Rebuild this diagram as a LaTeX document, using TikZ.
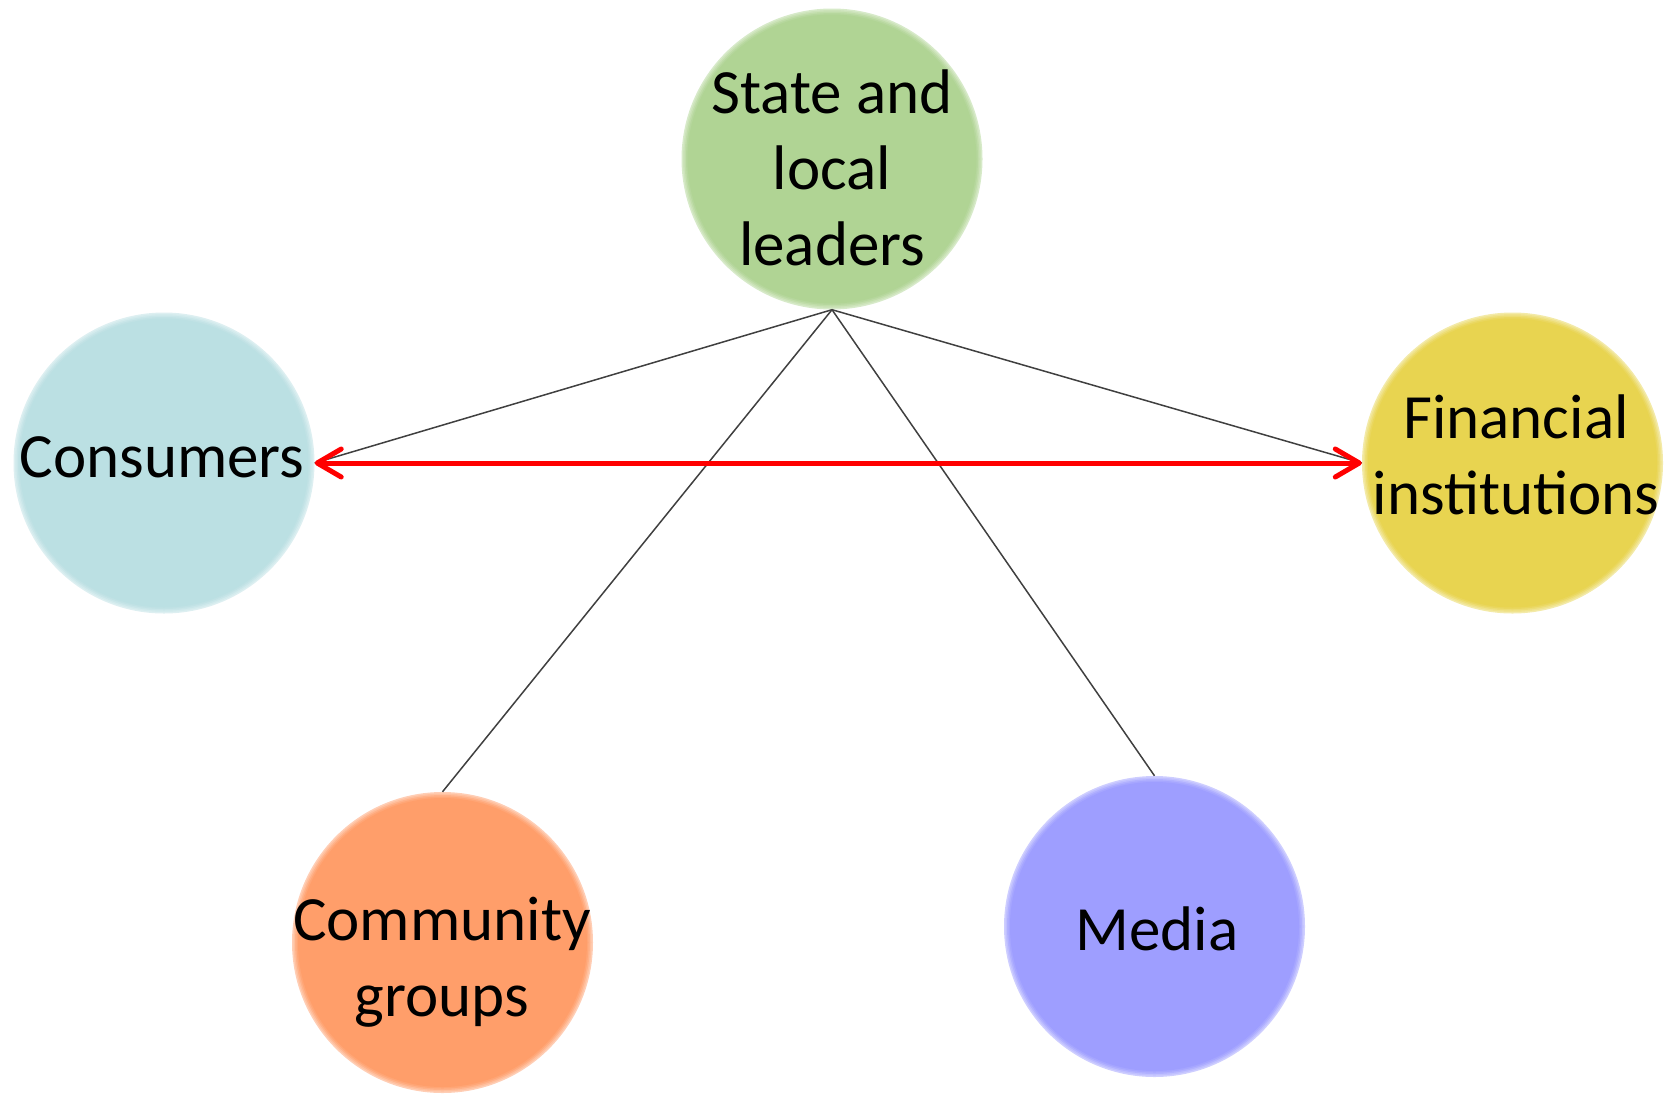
\documentclass[tikz,border=0pt]{standalone}
\usepackage{fontspec}
\setmainfont{Carlito}
\usetikzlibrary{arrows.meta}

\definecolor{leadgreen}{RGB}{176,212,148}
\definecolor{consblue}{RGB}{187,224,227}
\definecolor{finyellow}{RGB}{232,212,80}
\definecolor{commorange}{RGB}{255,158,106}
\definecolor{mediaviolet}{RGB}{158,158,255}
\definecolor{linkgray}{RGB}{64,64,64}

\tikzset{
  bubble/.style={circle, inner sep=0pt, minimum size=301pt,
    fill=#1!50!white,
    path picture={
      \fill[#1!65!white] (path picture bounding box.center) circle (149pt);
      \fill[#1!80!white] (path picture bounding box.center) circle (147.5pt);
      \fill[#1!92!white] (path picture bounding box.center) circle (146pt);
      \fill[#1] (path picture bounding box.center) circle (144.5pt);
    }},
  % captions are placed by the baseline of their last line
  caption/.style={anchor=base, align=center, inner sep=0pt,
    font={\fontsize{63}{76}\selectfont}},
  link/.style={draw=linkgray, line width=1.5pt},
  twoway/.style={draw=red, line width=5pt, line cap=round,
    {Straight Barb[length=24pt, width=28pt, line cap=round, line join=round]}-{Straight Barb[length=24pt, width=28pt, line cap=round, line join=round]}}
}

\begin{document}
\begin{tikzpicture}[x=1pt, y=-1pt]
  \useasboundingbox (0,0) rectangle (1675,1093);

  % circles
  \node[bubble=leadgreen]   (state)     at (832,159) {};
  \node[bubble=consblue]    (consumers) at (164,463) {};
  \node[bubble=finyellow]   (finance)   at (1512.5,463) {};
  \node[bubble=commorange]  (community) at (442.5,942.5) {};
  \node[bubble=mediaviolet] (media)     at (1154.5,926.5) {};

  % captions
  \node[caption] (statetext)     at (832,265)  {State and\\local\\leaders};
  \node[caption] (consumerstext) at (162,477)  {Consumers};
  \node[caption] (financetext)   at (1516,514) {Financial\\institutions};
  \node[caption] (communitytext) at (442,1016) {Community\\groups};
  \node[caption] (mediatext)     at (1157,950) {Media};

  % links from the leaders
  \draw[link] (state.south) -- (consumers.east);
  \draw[link] (state.south) -- (finance.west);
  \draw[link] (state.south) -- (community.north);
  \draw[link] (state.south) -- (media.north);

  % two-way link between consumers and institutions
  \draw[twoway] (consumers.east) -- (finance.west);
\end{tikzpicture}
\end{document}
